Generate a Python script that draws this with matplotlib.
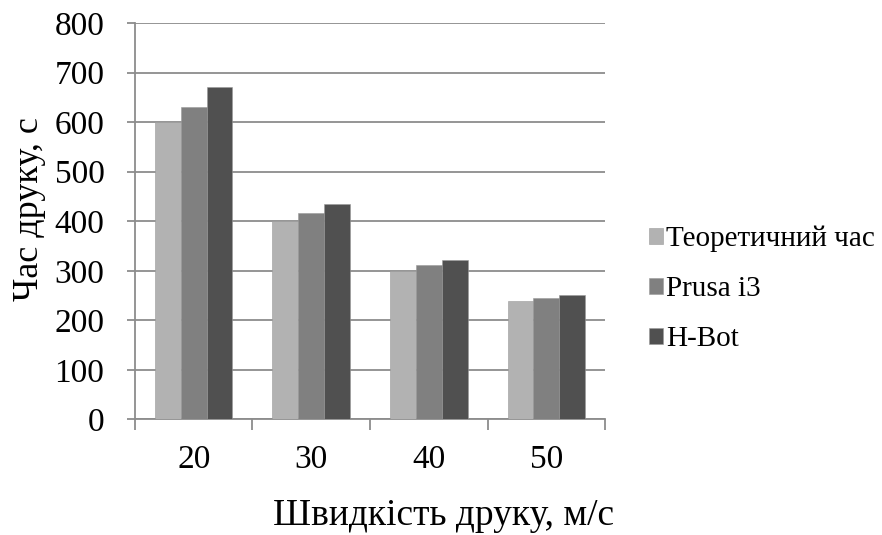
""" Bar chart of print time versus print speed for two printers and the
    theoretical estimate.
"""

import numpy as np
from matplotlib import pyplot as plt

# ------------------------------------------------------------------------------
# Data.
# ------------------------------------------------------------------------------

speeds = ["20", "30", "40", "50"]
theoretical = [600, 400, 300, 240]
prusa = [630, 417, 312, 245]
hbot = [670, 434, 321, 251]

series_names = ["Теоретичний час", "Prusa i3", "H-Bot"]
series_colors = ["#b2b2b2", "#808080", "#505050"]

# ------------------------------------------------------------------------------
# Plot.
# ------------------------------------------------------------------------------

plt.rcParams['font.family'] = ['Liberation Serif', 'DejaVu Serif']
grid_color = "#8c8c8c"

fig = plt.figure(figsize=(8.82, 5.35), dpi=100)
ax = fig.add_axes([0.153, 0.216, 0.533, 0.741])

x = np.arange(len(speeds))
width = 0.22
for k, (values, name, color) in enumerate(zip([theoretical, prusa, hbot], series_names, series_colors)):
    ax.bar(x + (k - 1) * width, values, width, color=color, label=name,
           edgecolor="#9a9a9a", linewidth=0.4, zorder=3)

ax.set_xlim(-0.5, len(speeds) - 0.5)
ax.set_ylim(0, 800)
ax.set_yticks(np.arange(0, 801, 100))
ax.set_xticks(x)
ax.set_xticklabels(speeds)
ax.set_xticks(np.arange(-0.5, len(speeds)), minor=True)

ax.yaxis.grid(True, color=grid_color, linewidth=1.3, zorder=0)
ax.set_axisbelow(True)
for side in ["top", "right"]:
    ax.spines[side].set_visible(False)
for side in ["left", "bottom"]:
    ax.spines[side].set_color(grid_color)
    ax.spines[side].set_linewidth(1.3)

ax.tick_params(axis="y", length=6, width=1.3, color=grid_color, labelsize=24, pad=16)
ax.tick_params(axis="x", which="major", length=0, labelsize=24, pad=18)
ax.tick_params(axis="x", which="minor", length=8, width=1.3, color=grid_color)

# Axis titles sit off the plot centre, as in the source workbook.
ax.set_xlabel("Швидкість друку, м/с", fontsize=27, labelpad=17, x=0.657)
ax.set_ylabel("Час друку, с", fontsize=26, labelpad=6, y=0.53)

fig.legend(loc="center left", bbox_to_anchor=(0.736, 0.46), frameon=False,
           fontsize=21, handlelength=0.48, handleheight=0.48, handletextpad=0.1,
           labelspacing=0.82, borderpad=0, borderaxespad=0)

plt.savefig("out.png", dpi=100)
